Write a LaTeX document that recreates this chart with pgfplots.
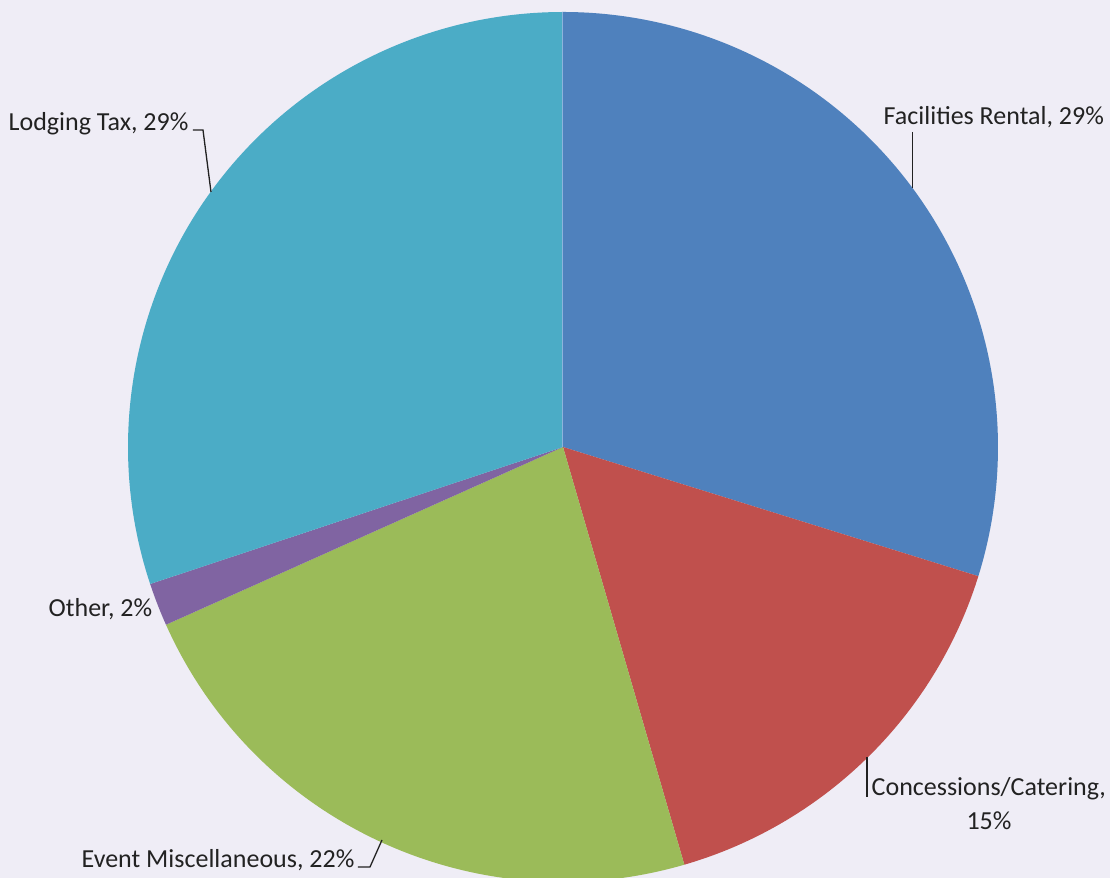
\documentclass[border=0pt]{standalone}
\usepackage{pgfplots}
\pgfplotsset{compat=1.18}
\usepackage{pgfplotstable}
\usepackage{fontspec}
\setmainfont{Carlito}

\definecolor{bgc}{HTML}{EFEDF6}
\definecolor{cfac}{HTML}{4F81BD}
\definecolor{ccon}{HTML}{C0504D}
\definecolor{cevt}{HTML}{9BBB59}
\definecolor{coth}{HTML}{8064A2}
\definecolor{clod}{HTML}{4BACC6}
\definecolor{csliv}{HTML}{8DB3DC}
\definecolor{txt}{HTML}{222222}

% share of each slice, in percent, clockwise from 12 o'clock
\pgfplotstableread{
name        value
Facilities  29.8
Concessions 15.7
Event       22.8
Other       1.6
Lodging     30.1
}\piedata

\pgfplotstablegetelem{0}{value}\of\piedata \let\vA\pgfplotsretval
\pgfplotstablegetelem{1}{value}\of\piedata \let\vB\pgfplotsretval
\pgfplotstablegetelem{2}{value}\of\piedata \let\vC\pgfplotsretval
\pgfplotstablegetelem{3}{value}\of\piedata \let\vD\pgfplotsretval
\pgfplotstablegetelem{4}{value}\of\piedata \let\vE\pgfplotsretval

\pgfmathsetmacro\aA{90}
\pgfmathsetmacro\aB{\aA-3.6*\vA}
\pgfmathsetmacro\aC{\aB-3.6*\vB}
\pgfmathsetmacro\aD{\aC-3.6*\vC}
\pgfmathsetmacro\aE{\aD-3.6*\vD}
\pgfmathsetmacro\aF{\aE-3.6*\vE}

\newcommand\slice[3]{%
  \fill[#3] (axis cs:563,447) -- ++(#1:4.35cm)
    arc[start angle=#1, end angle=#2, radius=4.35cm] -- cycle;}

\begin{document}
\begin{tikzpicture}
\begin{axis}[
    at={(0,0)}, anchor=south west,
    scale only axis,
    width=11.1cm, height=8.78cm,
    xmin=0, xmax=1110, ymin=0, ymax=878,
    y dir=reverse,
    axis lines=none,
    clip=false,
  ]
  \fill[bgc] (axis cs:0,0) rectangle (axis cs:1110,878);

  \slice{\aA}{\aB}{cfac}
  \slice{\aB}{\aC}{ccon}
  \slice{\aC}{\aD}{cevt}
  \slice{\aD}{\aE}{coth}
  \slice{\aE}{\aF}{clod}
  \draw[csliv, line width=0.15mm] (axis cs:562.7,447) -- ++(90:4.35cm);

  \begin{scope}[txt, line width=0.13mm]
    \draw (axis cs:912.7,132) -- (axis cs:912.7,188);
    \draw (axis cs:193,130) -- (axis cs:203,130) -- (axis cs:211,192);
    \draw (axis cs:867,757) -- (axis cs:867,797);
    \draw (axis cs:358,867) -- (axis cs:370,867) -- (axis cs:382,840);
  \end{scope}

  \begin{scope}[every node/.style={inner sep=0pt, text=txt,
      font=\fontsize{7.4}{8.9}\selectfont}]
    \node[anchor=base west] at (axis cs:883,125) {Facilities Rental, 29\%};
    \node[anchor=base west] at (axis cs:8,131) {Lodging Tax, 29\%};
    \node[anchor=base west] at (axis cs:48,617) {Other, 2\%};
    \node[anchor=base west] at (axis cs:871,796) {Concessions/Catering,};
    \node[anchor=base] at (axis cs:989,830) {15\%};
    \node[anchor=base west] at (axis cs:81,868) {Event Miscellaneous, 22\%};
  \end{scope}
\end{axis}
\pgfresetboundingbox
\path (0,0) rectangle (11.1cm,8.78cm);
\end{tikzpicture}
\end{document}
